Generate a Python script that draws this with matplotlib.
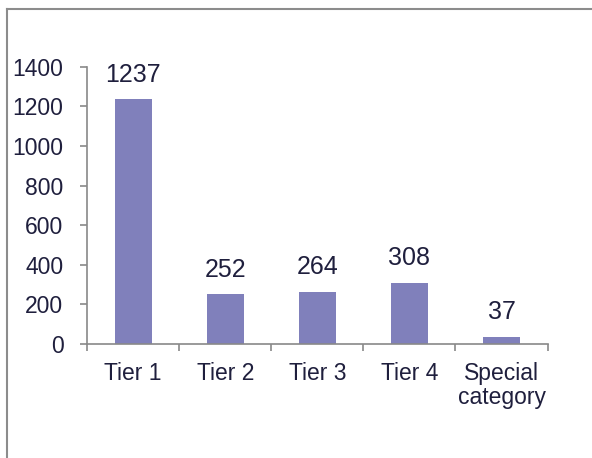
import matplotlib.pyplot as plt
from matplotlib.lines import Line2D
import numpy as np

categories = ['Tier 1', 'Tier 2', 'Tier 3', 'Tier 4', 'Special\ncategory']
counts = [1237, 252, 264, 308, 37]
yticks = [0, 200, 400, 600, 800, 1000, 1200, 1400]

bar_color = '#8080bb'
text_color = '#1f1f3d'
axis_color = '#898989'

plt.rcParams['font.family'] = ['Liberation Sans', 'DejaVu Sans']

fig = plt.figure(figsize=(5.92, 4.58), dpi=100)
ax = fig.add_axes([0.147, 0.249, 0.778, 0.605])

x = np.arange(len(categories))
bars = ax.bar(x, counts, width=0.4, color=bar_color)
for b, v in zip(bars, counts):
    ax.annotate(str(v), (b.get_x() + b.get_width() / 2, v), xytext=(0, 9),
                textcoords='offset points', ha='center', va='bottom',
                fontsize=18, color=text_color)

ax.set_xlim(-0.5, len(categories) - 0.5)
ax.set_ylim(0, 1400)
ax.set_yticks(yticks)
ax.set_xticks(np.arange(len(categories) + 1) - 0.5, minor=False)
ax.set_xticklabels([])
ax.set_xticks(x, minor=True)
ax.set_xticklabels(categories, minor=True, fontsize=16.5, color=text_color,
                   linespacing=1.08)
ax.tick_params(axis='x', which='minor', length=0, pad=13)
ax.tick_params(axis='x', which='major', length=5, width=1.2, color=axis_color)
ax.tick_params(axis='y', length=5, width=1.2, color=axis_color,
               labelsize=16.5, labelcolor=text_color, pad=12)

for s in ['top', 'right']:
    ax.spines[s].set_visible(False)
for s in ['left', 'bottom']:
    ax.spines[s].set_color(axis_color)
    ax.spines[s].set_linewidth(1.2)

# outer frame lines
fig.add_artist(Line2D([0.0125, 1.0], [0.981, 0.981], color='#8c8c8c', lw=1.5,
                      transform=fig.transFigure))
fig.add_artist(Line2D([0.0125, 0.0125], [0.0, 0.981], color='#8c8c8c', lw=1.5,
                      transform=fig.transFigure))

fig.savefig('out.png', dpi=100)
